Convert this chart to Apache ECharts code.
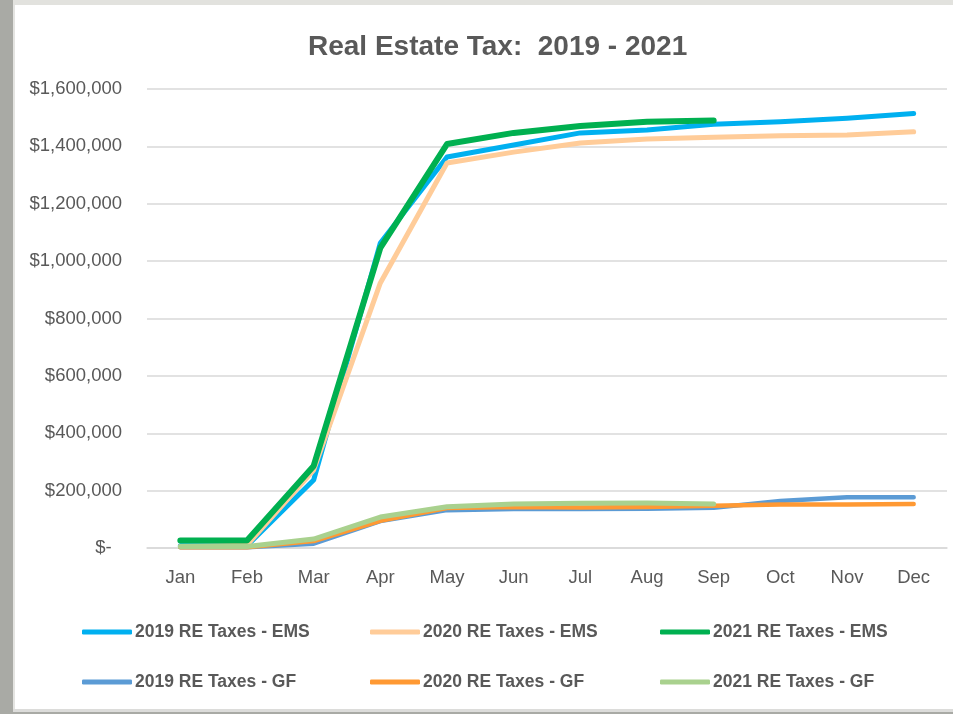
<!DOCTYPE html>
<html>
<head>
<meta charset="utf-8">
<script src="https://cdn.jsdelivr.net/npm/echarts@6/dist/echarts.min.js"></script>
<style>
html,body{margin:0;padding:0;background:#fff;}
#chart{width:953px;height:714px;}
</style>
</head>
<body>
<div id="chart"></div>
<script>
var months = ['Jan','Feb','Mar','Apr','May','Jun','Jul','Aug','Sep','Oct','Nov','Dec'];
var yTicks = [0, 200000, 400000, 600000, 800000, 1000000, 1200000, 1400000, 1600000];
var ems2019 = [8000, 8000, 237000, 1063000, 1363000, 1405000, 1447000, 1457000, 1477000, 1486000, 1498000, 1515000];
var ems2020 = [5000, 10000, 272000, 924000, 1342000, 1380000, 1412000, 1426000, 1432000, 1437000, 1440000, 1451000];
var ems2021 = [26000, 26000, 286000, 1046000, 1408000, 1447000, 1471000, 1486000, 1490000, null, null, null];
var gf2019 = [3000, 3000, 15000, 94000, 132000, 136000, 136000, 137000, 140000, 164000, 177000, 177000];
var gf2020 = [3000, 3000, 24000, 95000, 139000, 143000, 141000, 143000, 147000, 152000, 152000, 153000];
var gf2021 = [5000, 5000, 31000, 108000, 144000, 153000, 156000, 157000, 153000, null, null, null];

var seriesNames = ['2019 RE Taxes - EMS','2020 RE Taxes - EMS','2021 RE Taxes - EMS','2019 RE Taxes - GF','2020 RE Taxes - GF','2021 RE Taxes - GF'];
var seriesData = [ems2019, ems2020, ems2021, gf2019, gf2020, gf2021];
var colors = ['#00B0F0','#FFCC99','#00B050','#5B9BD5','#FF9933','#A9D18E'];
var widths = [5, 5, 6, 4.5, 4.5, 5];

var FONT = '"Liberation Sans", Arial, sans-serif';
var TXT = '#595959';

var chart = echarts.init(document.getElementById('chart'), null, {renderer:'canvas'});

var legendLeft = [82, 370, 660];
var legendTop = [623, 673];
var legends = seriesNames.map(function(n, i){
  return {
    data: [n],
    left: legendLeft[i % 3],
    top: legendTop[Math.floor(i / 3)],
    icon: 'roundRect',
    itemWidth: 50,
    itemHeight: 5,
    itemGap: 0,
    padding: 0,
    selectedMode: false,
    textStyle: {fontFamily: FONT, fontSize: 17.5, fontWeight: 'bold', color: TXT, padding: [0,0,0,-2]}
  };
});

var option = {
  backgroundColor: '#ffffff',
  animation: false,
  color: colors,
  title: {
    text: 'Real Estate Tax:  2019 - 2021',
    left: 303,
    top: 28,
    textStyle: {fontFamily: FONT, fontSize: 28, fontWeight: 'bold', color: TXT}
  },
  legend: legends,
  grid: {left: 147, right: 6, top: 89, bottom: 166, containLabel: false},
  xAxis: {
    type: 'category',
    data: months,
    boundaryGap: true,
    axisLine: {show: true, lineStyle: {color: '#D9D9D9', width: 1.5}},
    axisTick: {show: false},
    axisLabel: {fontFamily: FONT, fontSize: 18.5, color: TXT, margin: 20}
  },
  yAxis: {
    type: 'value',
    min: yTicks[0],
    max: yTicks[yTicks.length - 1],
    interval: yTicks[1] - yTicks[0],
    axisLine: {show: false},
    axisTick: {show: false},
    splitLine: {lineStyle: {color: '#D9D9D9', width: 1.5}},
    axisLabel: {
      fontFamily: FONT, fontSize: 18.5, color: TXT, margin: 25, padding: [4, 0, 0, 0],
      formatter: function(v){ return v === 0 ? '$-  ' : '$' + v.toLocaleString('en-US'); }
    }
  },
  series: seriesData.map(function(d, i){
    return {
      name: seriesNames[i],
      type: 'line',
      data: d,
      showSymbol: false,
      symbol: 'none',
      connectNulls: false,
      lineStyle: {color: colors[i], width: widths[i], cap: 'round', join: 'round'},
      itemStyle: {color: colors[i]},
      z: 2 + i
    };
  }),
  graphic: [
    {type: 'rect', shape: {x: 0, y: 0, width: 953, height: 5}, style: {fill: '#E2E2DE'}, silent: true},
    {type: 'rect', shape: {x: 0, y: 0, width: 13, height: 714}, style: {fill: '#A9AAA5'}, silent: true},
    {type: 'rect', shape: {x: 13, y: 5, width: 2, height: 704}, style: {fill: '#E4E4E1'}, silent: true},
    {type: 'rect', shape: {x: 13, y: 709, width: 940, height: 3}, style: {fill: '#DCDCDA'}, silent: true},
    {type: 'rect', shape: {x: 13, y: 712, width: 940, height: 2}, style: {fill: '#A9AAA5'}, silent: true}
  ]
};
chart.setOption(option);
</script>
</body>
</html>
